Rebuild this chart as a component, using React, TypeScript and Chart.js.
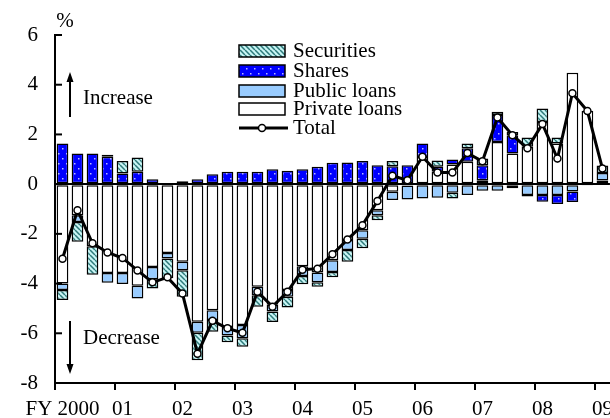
import React, { useEffect, useRef } from 'react';
import { Chart, registerables } from 'chart.js';

Chart.register(...registerables);

const quarters = [
  '2000Q1', '2000Q2', '2000Q3', '2000Q4',
  '2001Q1', '2001Q2', '2001Q3', '2001Q4',
  '2002Q1', '2002Q2', '2002Q3', '2002Q4',
  '2003Q1', '2003Q2', '2003Q3', '2003Q4',
  '2004Q1', '2004Q2', '2004Q3', '2004Q4',
  '2005Q1', '2005Q2', '2005Q3', '2005Q4',
  '2006Q1', '2006Q2', '2006Q3', '2006Q4',
  '2007Q1', '2007Q2', '2007Q3', '2007Q4',
  '2008Q1', '2008Q2', '2008Q3', '2008Q4',
  '2009Q1',
];

const yearLabels = ['FY 2000', '01', '02', '03', '04', '05', '06', '07', '08', '09'];

const privateLoans = [
  -4.0, -1.25, -2.5, -3.57, -3.57, -4.09, -3.33, -2.77, -3.12, -5.54, -5.07, -5.75,
  -5.67, -4.13, -4.85, -4.26, -3.3, -3.55, -3.06, -2.25, -1.85, -1.05, -0.31, -0.05,
  1.09, 0.5, 0.79, 0.9, 0.16, 1.7, 1.23, 1.5, 2.5, 1.64, 4.48, 2.95, 0.15,
];
const publicLoans = [
  -0.26, -0.27, 0, -0.4, -0.45, -0.51, -0.5, -0.22, -0.34, -0.44, -0.4, -0.34,
  -0.53, -0.34, -0.27, -0.27, -0.4, -0.4, -0.47, -0.4, -0.35, -0.2, -0.33, -0.57,
  -0.58, -0.55, -0.35, -0.44, -0.27, -0.27, -0.17, -0.44, -0.44, -0.44, -0.3, -0.03, 0.3,
];
const shares = [
  1.64, 1.23, 1.23, 1.1, 0.43, 0.5, 0.2, 0, 0.12, 0.2, 0.4, 0.5,
  0.5, 0.5, 0.6, 0.54, 0.6, 0.7, 0.86, 0.87, 0.93, 0.76, 0.72, 0.76,
  0.55, 0.2, 0.2, 0.54, 0.6, 1.08, 0.74, -0.06, -0.27, -0.36, -0.42, 0, 0,
];
const securities = [
  -0.4, -0.8, -1.15, 0.08, 0.5, 0.57, -0.37, -0.8, -1.07, -1.1, -0.47, -0.27,
  -0.34, -0.46, -0.43, -0.43, -0.33, -0.18, -0.22, -0.47, -0.38, -0.2, 0.21, 0,
  0, 0.25, -0.23, 0.2, 0.27, 0.13, 0.13, 0.38, 0.54, 0.24, 0, 0, 0.3,
];
const total = [
  -3.0, -1.05, -2.38, -2.75, -2.97, -3.47, -3.95, -3.75, -4.4, -6.82, -5.5, -5.8,
  -5.98, -4.33, -4.93, -4.33, -3.44, -3.4, -2.82, -2.23, -1.65, -0.68, 0.34, 0.16,
  1.1, 0.47, 0.47, 1.25, 0.92, 2.68, 1.97, 1.44, 2.42, 1.03, 3.66, 2.94, 0.63,
];

const yTicks = { min: -8, max: 6, step: 2 };

const FONT = '"Liberation Serif", "Times New Roman", serif';

function makeHatch(): CanvasPattern | string {
  const c = document.createElement('canvas');
  c.width = 5;
  c.height = 5;
  const g = c.getContext('2d');
  if (!g) return '#c8f4f4';
  g.fillStyle = '#c8f4f4';
  g.fillRect(0, 0, 5, 5);
  g.strokeStyle = '#2e7a7a';
  g.lineWidth = 1.5;
  g.beginPath();
  for (const o of [-5, 0, 5]) {
    g.moveTo(o, 0);
    g.lineTo(o + 5, 5);
  }
  g.stroke();
  return g.createPattern(c, 'repeat') || '#c8f4f4';
}

function makeDots(): CanvasPattern | string {
  const c = document.createElement('canvas');
  c.width = 8;
  c.height = 10;
  const g = c.getContext('2d');
  if (!g) return '#0000ff';
  g.fillStyle = '#0000ff';
  g.fillRect(0, 0, 8, 10);
  g.fillStyle = '#b8b8ff';
  g.fillRect(2, 3, 1.5, 1.5);
  g.fillRect(6, 8, 1.5, 1.5);
  return g.createPattern(c, 'repeat') || '#0000ff';
}

export default function App() {
  const ref = useRef<HTMLCanvasElement | null>(null);

  useEffect(() => {
    if (!ref.current) return;
    const hatch = makeHatch();
    const dots = makeDots();
    const publicColor = '#99ccff';

    const overlay = {
      id: 'overlay',
      afterDraw(chart: any) {
        const ctx: CanvasRenderingContext2D = chart.ctx;
        const ys = chart.scales.y;
        const area = chart.chartArea;
        ctx.save();
        // inward y ticks
        ctx.strokeStyle = '#000';
        ctx.lineWidth = 2;
        ys.ticks.forEach((t: any) => {
          const py = ys.getPixelForValue(t.value);
          ctx.beginPath();
          ctx.moveTo(area.left, py);
          ctx.lineTo(area.left + 7, py);
          ctx.stroke();
        });

        ctx.fillStyle = '#000';
        ctx.font = `21px ${FONT}`;
        ctx.textBaseline = 'alphabetic';
        ctx.textAlign = 'center';
        ctx.fillText('%', 65, 27);
        ctx.textAlign = 'left';
        ctx.fillText('Increase', 83, 104);
        ctx.fillText('Decrease', 83, 344);
        ctx.lineWidth = 2;
        ctx.beginPath();
        ctx.moveTo(70, 117);
        ctx.lineTo(70, 80);
        ctx.moveTo(70, 321);
        ctx.lineTo(70, 366);
        ctx.stroke();
        ctx.beginPath();
        ctx.moveTo(70, 72);
        ctx.lineTo(66.5, 82);
        ctx.lineTo(73.5, 82);
        ctx.closePath();
        ctx.moveTo(70, 374);
        ctx.lineTo(66.5, 364);
        ctx.lineTo(73.5, 364);
        ctx.closePath();
        ctx.fill();

        const items: [string, any][] = [
          ['Securities', hatch],
          ['Shares', dots],
          ['Public loans', publicColor],
          ['Private loans', '#ffffff'],
        ];
        const boxTop = [45, 65, 85, 103];
        const base = [57, 77, 96.5, 115];
        items.forEach(([label, fill], i) => {
          ctx.fillStyle = fill;
          ctx.fillRect(239, boxTop[i], 46, 12);
          ctx.strokeStyle = '#000';
          ctx.lineWidth = 1.5;
          ctx.strokeRect(239, boxTop[i], 46, 12);
          ctx.fillStyle = '#000';
          ctx.fillText(label, 293, base[i]);
        });
        ctx.lineWidth = 3;
        ctx.beginPath();
        ctx.moveTo(239, 128);
        ctx.lineTo(288, 128);
        ctx.stroke();
        ctx.beginPath();
        ctx.arc(262, 128, 3.5, 0, Math.PI * 2);
        ctx.fillStyle = '#fff';
        ctx.fill();
        ctx.lineWidth = 1.5;
        ctx.stroke();
        ctx.fillStyle = '#000';
        ctx.fillText('Total', 293, 133.5);
        ctx.restore();
      },
    };

    const barCommon = {
      type: 'bar' as const,
      borderColor: '#000',
      borderWidth: 1.5,
      borderSkipped: false,
      barPercentage: 0.78,
      categoryPercentage: 1.0,
      order: 1,
    };

    const chart = new Chart(ref.current, {
      type: 'bar',
      data: {
        labels: quarters,
        datasets: [
          { ...barCommon, label: 'Private loans', data: privateLoans, backgroundColor: '#ffffff' },
          { ...barCommon, label: 'Public loans', data: publicLoans, backgroundColor: publicColor },
          { ...barCommon, label: 'Shares', data: shares, backgroundColor: dots as any },
          { ...barCommon, label: 'Securities', data: securities, backgroundColor: hatch as any },
          {
            type: 'line',
            label: 'Total',
            data: total,
            stack: 'total',
            order: 0,
            borderColor: '#000',
            borderWidth: 3,
            pointRadius: 3.5,
            pointBackgroundColor: '#fff',
            pointBorderColor: '#000',
            pointBorderWidth: 1.5,
            tension: 0,
          } as any,
        ],
      },
      options: {
        animation: false,
        responsive: false,
        events: [],
        layout: { padding: { top: 35, right: 6, bottom: 9, left: 0 } },
        plugins: { legend: { display: false }, tooltip: { enabled: false } },
        scales: {
          x: {
            stacked: true,
            offset: true,
            border: { color: '#000', width: 2 },
            grid: {
              offset: true,
              drawOnChartArea: false,
              drawTicks: true,
              tickLength: 7,
              lineWidth: 2,
              color: (c: any) => (c.index % 4 === 0 ? '#000' : 'rgba(0,0,0,0)'),
            },
            ticks: {
              autoSkip: false,
              maxRotation: 0,
              minRotation: 0,
              padding: 7,
              color: '#000',
              font: { family: FONT, size: 21 },
              callback: (_v: any, i: number) => (i % 4 === 0 ? yearLabels[i / 4] : ''),
            },
            afterFit: (s: any) => {
              s.height = 40;
            },
          },
          y: {
            stacked: true,
            min: yTicks.min,
            max: yTicks.max,
            border: { color: '#000', width: 2 },
            grid: {
              drawTicks: false,
              lineWidth: 2,
              color: (c: any) => (c.tick && c.tick.value === 0 ? '#000' : 'rgba(0,0,0,0)'),
            },
            ticks: {
              stepSize: yTicks.step,
              padding: 17,
              color: '#000',
              font: { family: FONT, size: 21 },
            },
            afterFit: (s: any) => {
              s.width = 55;
            },
          },
        },
      },
      plugins: [overlay],
    });
    return () => chart.destroy();
  }, []);

  return (
    <div
      style={{
        position: 'absolute',
        left: 0,
        top: 0,
        width: 610,
        height: 418,
        overflow: 'hidden',
        background: '#fff',
      }}
    >
      <canvas ref={ref} width={620} height={432} style={{ width: 620, height: 432, display: 'block' }} />
    </div>
  );
}
